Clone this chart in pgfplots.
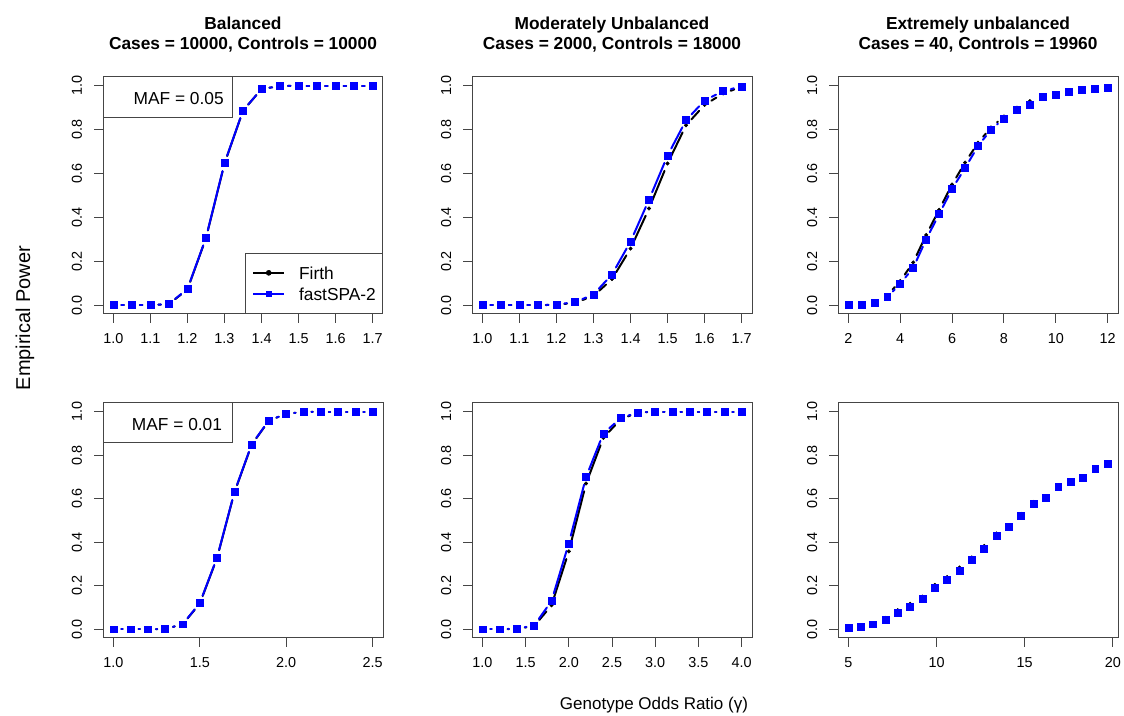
\documentclass[border=0pt]{standalone}
\usepackage{fontspec}
\setmainfont{Liberation Sans}
\usepackage{pgfplots}
\usepackage{pgfplotstable}
\pgfplotsset{compat=1.18}

\definecolor{boxc}{gray}{0.27}
\definecolor{rblue}{rgb}{0,0,1}

% power curves: x = odds ratio, f = Firth, s = fastSPA-2
\pgfplotstableread{
x f s
1.00 0.000 0.000
1.05 0.000 0.000
1.10 0.000 0.000
1.15 0.005 0.006
1.20 0.072 0.074
1.25 0.305 0.307
1.30 0.645 0.647
1.35 0.886 0.887
1.40 0.985 0.985
1.45 0.999 0.999
1.50 1.000 1.000
1.55 1.000 1.000
1.60 1.000 1.000
1.65 1.000 1.000
1.70 1.000 1.000
}\tA
\pgfplotstableread{
x f s
1.00 0.000 0.000
1.05 0.000 0.000
1.10 0.000 0.000
1.15 0.000 0.000
1.20 0.002 0.003
1.25 0.011 0.014
1.30 0.042 0.049
1.35 0.119 0.140
1.40 0.258 0.290
1.45 0.441 0.481
1.50 0.646 0.682
1.55 0.820 0.843
1.60 0.913 0.933
1.65 0.965 0.976
1.70 0.995 0.997
}\tB
\pgfplotstableread{
x f s
2.0 0.001 0.001
2.5 0.002 0.002
3.0 0.014 0.012
3.5 0.045 0.037
4.0 0.110 0.098
4.5 0.195 0.170
5.0 0.320 0.300
5.5 0.435 0.415
6.0 0.550 0.530
6.5 0.650 0.625
7.0 0.740 0.725
7.5 0.810 0.800
8.0 0.860 0.850
8.5 0.900 0.890
9.0 0.930 0.915
9.5 0.955 0.948
10.0 0.965 0.960
10.5 0.975 0.973
11.0 0.982 0.980
11.5 0.988 0.986
12.0 0.992 0.990
}\tC
\pgfplotstableread{
x f s
1.0 0.000 0.000
1.1 0.000 0.000
1.2 0.000 0.000
1.3 0.002 0.002
1.4 0.022 0.023
1.5 0.118 0.120
1.6 0.328 0.330
1.7 0.628 0.630
1.8 0.848 0.850
1.9 0.959 0.960
2.0 0.990 0.990
2.1 0.999 0.999
2.2 1.000 1.000
2.3 1.000 1.000
2.4 1.000 1.000
2.5 1.000 1.000
}\tD
\pgfplotstableread{
x f s
1.0 0.000 0.000
1.2 0.000 0.000
1.4 0.002 0.003
1.6 0.015 0.018
1.8 0.110 0.130
2.0 0.358 0.395
2.2 0.670 0.700
2.4 0.880 0.900
2.6 0.965 0.970
2.8 0.996 0.997
3.0 1.000 1.000
3.2 1.000 1.000
3.4 1.000 1.000
3.6 1.000 1.000
3.8 1.000 1.000
4.0 1.000 1.000
}\tE
\pgfplotstableread{
x f s
5.0 0.006 0.005
5.7 0.014 0.012
6.4 0.026 0.023
7.1 0.052 0.044
7.8 0.088 0.076
8.5 0.117 0.105
9.2 0.150 0.139
9.9 0.204 0.192
10.6 0.240 0.229
11.3 0.284 0.270
12.0 0.330 0.319
12.7 0.383 0.372
13.4 0.440 0.430
14.1 0.478 0.470
14.8 0.530 0.523
15.5 0.585 0.578
16.2 0.610 0.605
16.9 0.660 0.657
17.6 0.680 0.678
18.3 0.700 0.697
19.0 0.743 0.739
19.7 0.765 0.762
}\tF

% differences to the previous point, for the broken (type="b") lines
\newcommand\prep[1]{%
  \pgfplotstablecreatecol[create col/expr={\prevrow{x}-\thisrow{x}}]{dx}#1%
  \pgfplotstablecreatecol[create col/expr={\prevrow{f}-\thisrow{f}}]{df}#1%
  \pgfplotstablecreatecol[create col/expr={\prevrow{s}-\thisrow{s}}]{ds}#1}
\prep\tA \prep\tB \prep\tC \prep\tD \prep\tE

\pgfplotsset{
  rbox/.style={
    scale only axis, width=210pt, anchor=south west,
    axis line style={boxc, line width=0.75pt},
    tick style={boxc, line width=0.75pt},
    major tick length=6.5pt, tick align=outside,
    xtick pos=left, ytick pos=left,
    ymin=-0.04, ymax=1.04, ytick={0,0.2,0.4,0.6,0.8,1},
    scaled ticks=false,
    /pgf/number format/assume math mode=true,
    ticklabel style={font=\fontsize{10.8}{13}\selectfont, inner sep=0pt},
    yticklabel style={/pgf/number format/fixed, /pgf/number format/fixed zerofill,
      /pgf/number format/precision=1, xshift=-9.25pt, rotate=90, anchor=base},
    xticklabel style={anchor=north, yshift=-7.75pt},
    every axis title/.style={at={(0.5,1)}, anchor=south, inner sep=0pt, yshift=18.4pt,
      align=center, font=\bfseries\fontsize{13}{15}\selectfont},
  },
  p1/.style={xticklabel style={/pgf/number format/fixed, /pgf/number format/fixed zerofill,
      /pgf/number format/precision=1}},
  seg/.style n args={3}{
    quiver={u=\thisrow{dx}, v=\thisrow{#1},
      every arrow/.append style={line width=1.5pt, line cap=round,
        shorten <=6pt, shorten >=6pt}},
    unbounded coords=discard,
    x filter/.expression={(\coordindex<1 || veclen(\thisrow{dx}*#2,\thisrow{#1}*#3)<12.2) ? nan : x},
  },
}

\newcommand\curves[4][]{%
  \addplot[black, forget plot, seg={df}{#3}{#4}] table[x=x,y=f]{#2};
  \addplot[black, forget plot, only marks, mark=*, mark size=1.3pt] table[x=x,y=f]{#2};
  \addplot[rblue, forget plot, seg={ds}{#3}{#4}] table[x=x,y=s]{#2};
  \addplot[rblue, forget plot, only marks, mark=square*, mark size=2.6pt] table[x=x,y=s]{#2};
}

\begin{document}
\begin{tikzpicture}
\path[use as bounding box] (0,0) rectangle (843pt,537pt);

% top row
\begin{axis}[rbox, p1, at={(77.25pt,301.5pt)}, height=177.75pt,
  xmin=0.972, xmax=1.728, xtick={1.0,1.1,1.2,1.3,1.4,1.5,1.6,1.7},
  title={Balanced\\Cases = 10000, Controls = 10000},
  legend style={at={(1,0)}, anchor=south east, draw=boxc, line width=0.75pt, fill=white,
    font=\fontsize{13}{15}\selectfont, inner xsep=5pt, inner ysep=10pt, row sep=6.25pt,
    nodes={inner sep=0pt, text depth=0pt, text height=9.5pt},
    /tikz/every odd column/.append style={column sep=10.5pt}},
  legend cell align=left,
  legend image code/.code={\draw[mark repeat=2, mark phase=2, solid, line width=1.5pt, #1]
    plot coordinates {(0pt,0pt) (11.5pt,0pt) (23pt,0pt)};}]
\addlegendimage{black, mark=*, mark size=1.9pt, mark options={line width=0.4pt}}
\addlegendentry{Firth}
\addlegendimage{rblue, mark=square*, mark size=1.6pt, mark options={line width=0.4pt}}
\addlegendentry{fastSPA-2}
\curves{\tA}{277.8}{164.6}
\draw[boxc, line width=0.75pt, fill=white] (axis description cs:0,1) rectangle (axis description cs:0.464,0.827);
\node[anchor=base east, inner sep=0pt, font=\fontsize{13}{15}\selectfont] at (axis description cs:0.432,0.886) {MAF = 0.05};
\end{axis}

\begin{axis}[rbox, p1, at={(354pt,301.5pt)}, height=177.75pt,
  xmin=0.972, xmax=1.728, xtick={1.0,1.1,1.2,1.3,1.4,1.5,1.6,1.7},
  title={Moderately Unbalanced\\Cases = 2000, Controls = 18000}]
\curves{\tB}{277.8}{164.6}
\end{axis}

\begin{axis}[rbox, at={(628.5pt,301.5pt)}, height=177.75pt,
  xmin=1.6, xmax=12.4, xtick={2,4,6,8,10,12},
  title={Extremely unbalanced\\Cases = 40, Controls = 19960}]
\curves{\tC}{19.44}{164.6}
\end{axis}

% bottom row
\begin{axis}[rbox, p1, at={(77.25pt,58.5pt)}, height=176.25pt,
  xmin=0.94, xmax=2.56, xtick={1.0,1.5,2.0,2.5}]
\curves{\tD}{129.6}{163.2}
\draw[boxc, line width=0.75pt, fill=white] (axis description cs:0,1) rectangle (axis description cs:0.463,0.83);
\node[anchor=base east, inner sep=0pt, font=\fontsize{13}{15}\selectfont] at (axis description cs:0.426,0.885) {MAF = 0.01};
\end{axis}

\begin{axis}[rbox, p1, at={(354pt,58.5pt)}, height=176.25pt,
  xmin=0.88, xmax=4.12, xtick={1.0,1.5,2.0,2.5,3.0,3.5,4.0}]
\curves{\tE}{64.8}{163.2}
\end{axis}

\begin{axis}[rbox, at={(628.5pt,58.5pt)}, height=176.25pt,
  xmin=4.412, xmax=20.288, xtick={5,10,15,20}]
\addplot[black, only marks, mark=*, mark size=1.3pt] table[x=x,y=f]{\tF};
\addplot[rblue, only marks, mark=square*, mark size=2.6pt] table[x=x,y=s]{\tF};
\end{axis}

\node[rotate=90, anchor=base, font=\fontsize{15}{18}\selectfont] at (22.5pt,298.5pt) {Empirical Power};
\node[anchor=base, font=\fontsize{12.75}{15}\selectfont] at (490.5pt,4.5pt) {Genotype Odds Ratio (γ)};
\end{tikzpicture}
\end{document}
